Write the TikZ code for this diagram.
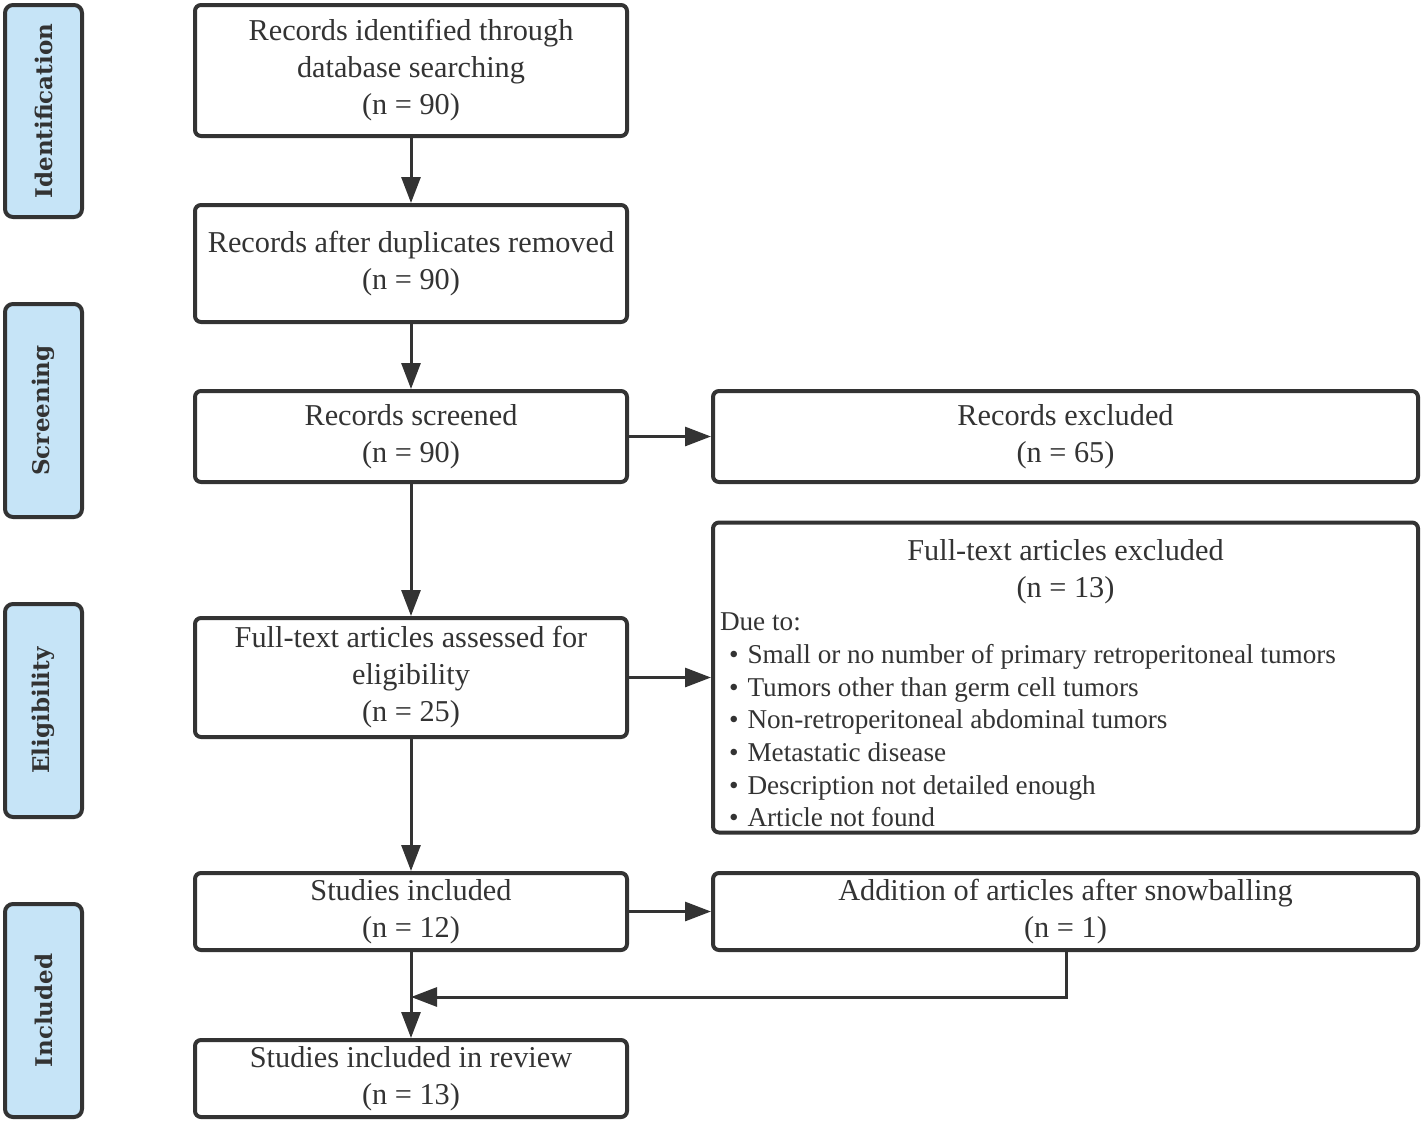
\documentclass[tikz,border=0pt]{standalone}
\usepackage{fontspec}
\setmainfont{Liberation Serif}
\newfontfamily\sidefont{DejaVu Serif}
\usetikzlibrary{arrows.meta,calc}
\definecolor{edgegray}{HTML}{333333}
\definecolor{sideblue}{HTML}{C6E4F7}

\begin{document}
\begin{tikzpicture}
	[x=1pt,y=-1pt,
	every node/.style={draw=edgegray,line width=4pt,rounded corners=6pt,inner sep=0pt,
		align=center,text=edgegray,font=\fontsize{30.3}{37}\selectfont},
	mainbox/.style={minimum width=432pt},
	sidebox/.style={minimum width=77pt,minimum height=213pt,fill=sideblue,rounded corners=8pt},
	sidetext/.style={draw=none,rotate=90,fill=none},
	plain/.style={draw=none,fill=none},
	flow/.style={-{Triangle[length=26pt,width=19pt]},line width=3pt,draw=edgegray}]
	\useasboundingbox (0,0) rectangle (1422,1122);
	
	\node[sidebox,minimum height=212pt] (s1) at (43.5,111) {};
	\node[sidetext] (s1t) at (s1.center) {\sidefont\bfseries\fontsize{23}{28}\selectfont Identification};
	\node[sidebox] (s2) at (43.5,410.5) {};
	\node[sidetext] (s2t) at (s2.center) {\sidefont\bfseries\fontsize{23}{28}\selectfont Screening};
	\node[sidebox] (s3) at (43.5,710.5) {};
	\node[sidetext] (s3t) at (s3.center) {\sidefont\bfseries\fontsize{23}{28}\selectfont Eligibility};
	\node[sidebox] (s4) at (43.5,1010.5) {};
	\node[sidetext] (s4t) at (s4.center) {\sidefont\bfseries\fontsize{23}{28}\selectfont Included};
	
	\node[mainbox,minimum height=131pt] (b1) at (411,70.5)
		{Records identified through\\database searching\\(n = 90)};
	\node[mainbox,minimum height=117pt] (b2) at (411,263.5)
		{Records after duplicates removed\\(n = 90)};
	\node[mainbox,minimum height=91pt] (b3) at (411,436.5)
		{Records screened\\(n = 90)};
	\node[mainbox,minimum height=119pt] (b4) at (411,677.5)
		{Full-text articles assessed for\\eligibility\\(n = 25)};
	\node[mainbox,minimum height=77pt] (b5) at (411,911.5)
		{\raisebox{-2pt}{Studies included}\\\raisebox{-2pt}{(n = 12)}};
	\node[mainbox,minimum height=77pt] (b6) at (411,1078.5)
		{\raisebox{-2pt}{Studies included in review}\\\raisebox{-2pt}{(n = 13)}};
	
	\node[minimum width=705pt,minimum height=91pt] (r1) at (1065.5,436.5)
		{Records excluded\\(n = 65)};
	\node[minimum width=705pt,minimum height=310pt] (r2) at (1065.5,677.5) {};
	\node[plain] (r2title) at (1065.5,571.5) {Full-text articles excluded\\(n = 13)};
	\node[plain,anchor=west,align=left,font=\fontsize{27.2}{32.7}\selectfont] (r2list) at (718,720)
		{Due to:\\
		\hspace*{9pt}\textbullet\hspace{9pt}Small or no number of primary retroperitoneal tumors\\
		\hspace*{9pt}\textbullet\hspace{9pt}Tumors other than germ cell tumors\\
		\hspace*{9pt}\textbullet\hspace{9pt}Non-retroperitoneal abdominal tumors\\
		\hspace*{9pt}\textbullet\hspace{9pt}Metastatic disease\\
		\hspace*{9pt}\textbullet\hspace{9pt}Description not detailed enough\\
		\hspace*{9pt}\textbullet\hspace{9pt}Article not found};
	\node[minimum width=705pt,minimum height=77pt] (r3) at (1065.5,911.5)
		{\raisebox{-2pt}{Addition of articles after snowballing}\\\raisebox{-2pt}{(n = 1)}};
	
	\coordinate (join) at (411,997);
	
	\path
	\foreach \startNode/\endNode in {b1/b2,b2/b3,b3/b4,b4/b5,b5/b6,b3/r1,b4/r2,b5/r3}
	{
		(\startNode) edge[flow] (\endNode)
	};
	\draw[flow] (r3.south -| 1066,0) |- (join);
\end{tikzpicture}
\end{document}
